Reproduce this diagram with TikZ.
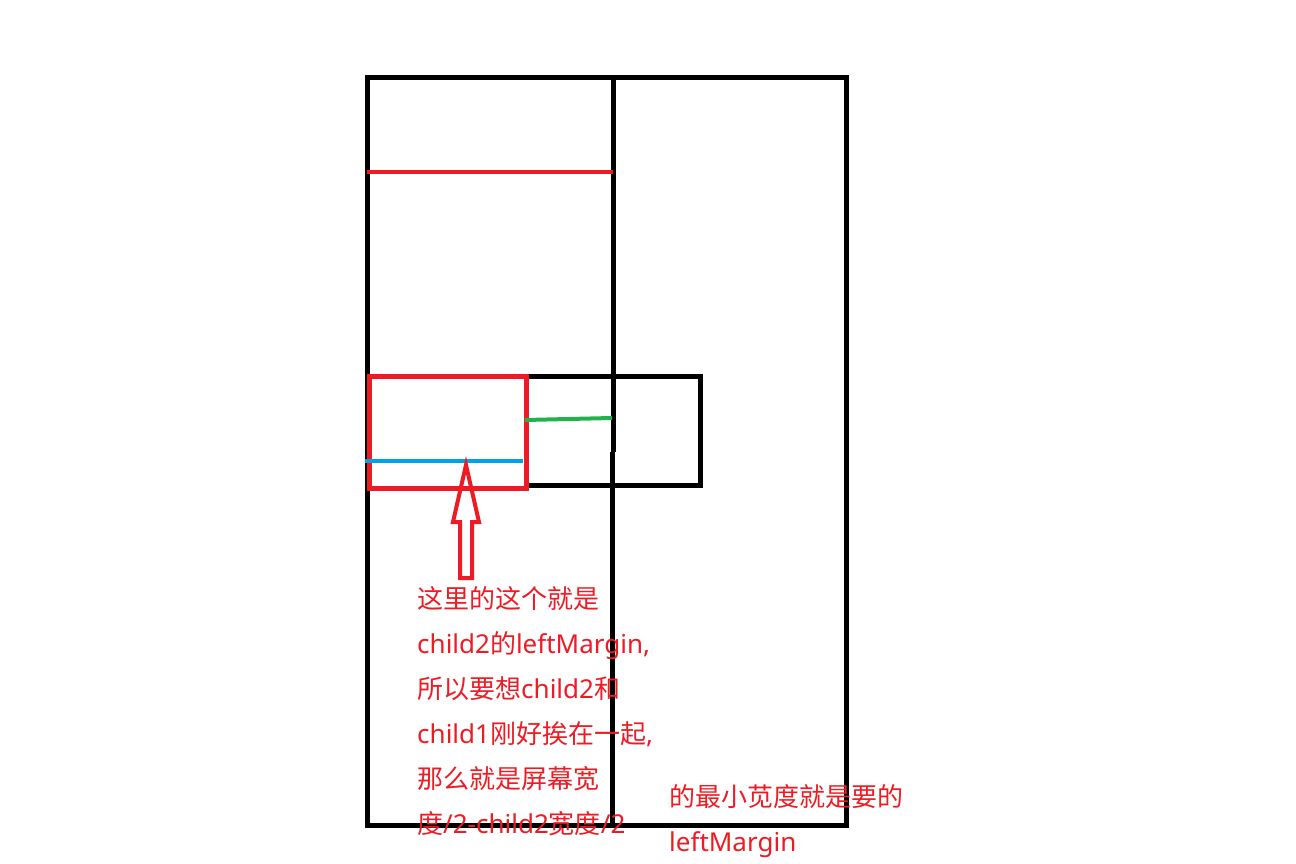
\documentclass[tikz,border=0pt]{standalone}
\usepackage{fontspec}
\newfontfamily\cjk{Noto Sans CJK SC}
\newfontfamily\latf{Noto Sans}
\newcommand{\lt}[1]{{\latf #1}}
\definecolor{pred}{HTML}{ED1C24}
\definecolor{pgreen}{HTML}{22B14C}
\definecolor{pblue}{HTML}{00A2E8}
\tikzset{
  frame/.style={draw=black, line width=5pt},
  redbox/.style={draw=pred, line width=5pt},
  note/.style={text=pred, font=\cjk\fontsize{26}{30}\selectfont, anchor=base west, inner sep=0pt},
}
\begin{document}
\begin{tikzpicture}[x=1pt,y=-1pt]
\useasboundingbox (0,0) rectangle (1296,864);
% screen
\draw[frame] (367,78) rectangle (846,825);
\coordinate (mtop) at (613,78);
\coordinate (mmid) at (613,452);
\coordinate (mmid2) at (612,452);
\coordinate (mbot) at (612,825);
\draw[frame] (mtop) -- (mmid);
\draw[frame] (mmid2) -- (mbot);
% red line
\coordinate (ra) at (367,172);
\coordinate (rb) at (613,172);
\draw[draw=pred, line width=4pt] (ra) -- (rb);
% child2 box
\draw[frame] (526,376) rectangle (700,485);
% child1 box
\draw[redbox] (369,376) rectangle (526,488);
% green line
\coordinate (ga) at (525,420);
\coordinate (gb) at (612,418);
\draw[draw=pgreen, line width=4pt] (ga) -- (gb);
% blue line
\coordinate (ba) at (365,461);
\coordinate (bb) at (523,461);
\draw[draw=pblue, line width=4pt] (ba) -- (bb);
% hollow arrow
\draw[draw=pred, line width=4pt, line join=miter]
  (466,465) -- (479,522) -- (472,522) -- (472,578) -- (460,578) -- (460,522) -- (453,522) -- cycle;
% texts
\node[note] (t1) at (417,608) {这里的这个就是};
\node[note] (t2) at (417,653) {\lt{child2}的\lt{leftMargin,}};
\node[note] (t3) at (417,698) {所以要想\lt{child2}和};
\node[note] (t4) at (417,743) {\lt{child1}刚好挨在一起\lt{,}};
\node[note] (t5) at (417,788) {那么就是屏幕宽};
\node[note] (t6) at (417,833) {度\lt{/2-child2}宽度\lt{/2}};
\node[note] (u1) at (669,806) {的最小苋度就是要的};
\node[note] (u2) at (669,851) {\lt{leftMargin}};
\end{tikzpicture}
\end{document}
